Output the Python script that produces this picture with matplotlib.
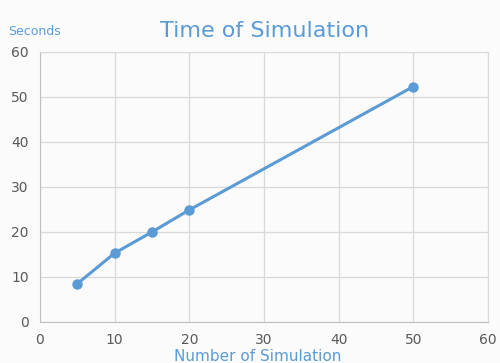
import matplotlib.pyplot as plt

# data
sims = [5, 10, 15, 20, 50]
seconds = [8.5, 15.3, 20.0, 24.9, 52.3]
xticks = [0, 10, 20, 30, 40, 50, 60]
yticks = [0, 10, 20, 30, 40, 50, 60]

blue = '#5b9bd5'
grey = '#595959'

fig = plt.figure(figsize=(5, 3.63), dpi=100)
fig.patch.set_facecolor('#fbfbfb')
ax = fig.add_axes([0.08, 0.113, 0.896, 0.744])
ax.set_facecolor('#fbfbfb')

ax.plot(sims, seconds, color=blue, lw=2.2, marker='o', ms=6.5, zorder=3)

ax.set_xlim(0, 60)
ax.set_ylim(0, 60)
ax.set_xticks(xticks)
ax.set_yticks(yticks)
ax.grid(True, color='#d9d9d9', lw=0.9)
ax.tick_params(length=0, labelsize=10, labelcolor=grey, pad=8)
for s in ['top', 'right']:
    ax.spines[s].set_color('#d9d9d9')
for s in ['left', 'bottom']:
    ax.spines[s].set_color('#bfbfbf')

fig.text(0.53, 0.915, 'Time of Simulation', color=blue, fontsize=16,
         ha='center', va='center')
fig.text(0.016, 0.912, 'Seconds', color=blue, fontsize=9, ha='left', va='center')
fig.text(0.516, 0.017, 'Number of Simulation', color=blue, fontsize=11,
         ha='center', va='center')

fig.savefig('out.png', dpi=100, facecolor=fig.get_facecolor())
